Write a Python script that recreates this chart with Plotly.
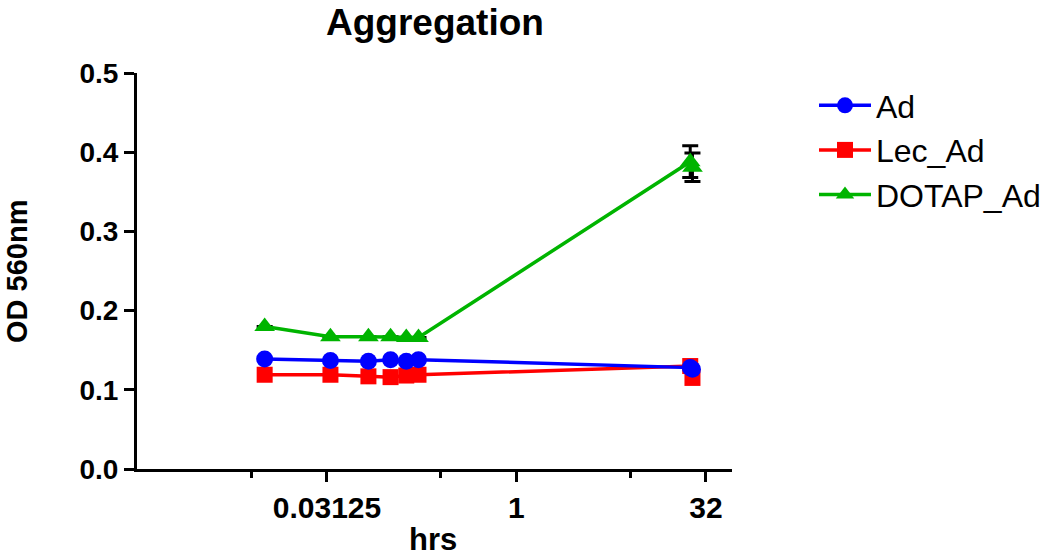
import plotly.graph_objects as go

# Data (time in hrs, OD 560nm)
time_hrs = [0.01, 0.0333, 0.0667, 0.1, 0.1333, 0.1667, 24, 25]
ad = [0.139, 0.137, 0.136, 0.138, 0.136, 0.138, 0.128, 0.126]
lec_ad = [0.119, 0.119, 0.117, 0.116, 0.118, 0.119, 0.130, 0.115]
dotap_ad = [0.180, 0.167, 0.167, 0.167, 0.166, 0.166, 0.388, 0.381]
dotap_err = [0, 0, 0, 0, 0, 0, 0.020, 0.018]

x_tickvals = [0.03125, 1, 32]
x_ticktext = ["0.03125", "1", "32"]
x_minor = [2 ** -7, 0.25, 8]
y_tickvals = [0.0, 0.1, 0.2, 0.3, 0.4, 0.5]
y_ticktext = ["0.0", "0.1", "0.2", "0.3", "0.4", "0.5"]

FONT = "Liberation Sans, Arial, sans-serif"
L, R, T, B = 137, 732, 73, 469  # plot area in page pixels
W, H = 1050, 557

fig = go.Figure()
fig.add_trace(go.Scatter(
    x=time_hrs, y=lec_ad, name="Lec_Ad", mode="lines+markers",
    line=dict(color="#FF0000", width=3.5),
    marker=dict(symbol="square", size=16, color="#FF0000"),
    legendrank=2, cliponaxis=False))
fig.add_trace(go.Scatter(
    x=time_hrs, y=ad, name="Ad", mode="lines+markers",
    line=dict(color="#0000FF", width=3.5),
    marker=dict(symbol="circle", size=17, color="#0000FF"),
    legendrank=1, cliponaxis=False))
fig.add_trace(go.Scatter(
    x=time_hrs, y=dotap_ad, name="DOTAP_Ad", mode="lines+markers",
    line=dict(color="#00B400", width=3.5),
    marker=dict(symbol="triangle-up", size=18, color="#00B400"),
    error_y=dict(type="data", array=dotap_err, visible=True,
                 color="black", thickness=3, width=8),
    legendrank=3, cliponaxis=False))

pw, ph = R - L, B - T
fig.update_layout(
    width=W, height=H,
    paper_bgcolor="white", plot_bgcolor="white",
    margin=dict(l=L, r=W - R, t=T, b=H - B, autoexpand=False),
    font=dict(family=FONT, color="black"),
    showlegend=True,
    legend=dict(x=(814 - L) / pw, y=(B - 78) / ph, xanchor="left", yanchor="top",
                font=dict(size=32, family=FONT, color="black"),
                itemwidth=52,
                bgcolor="rgba(0,0,0,0)"),
    annotations=[
        dict(text="Aggregation", xref="paper", yref="paper",
             x=0.5, y=(B - 23) / ph, xanchor="center", yanchor="middle",
             showarrow=False,
             font=dict(size=37, weight="bold", family=FONT, color="black")),
        dict(text="hrs", xref="paper", yref="paper",
             x=(433 - L) / pw, y=(B - 539) / ph, xanchor="center", yanchor="middle",
             showarrow=False,
             font=dict(size=31, weight="bold", family=FONT, color="black")),
        dict(text="OD 560nm", xref="paper", yref="paper",
             x=(17 - L) / pw, y=(B - 272) / ph, xanchor="center", yanchor="middle",
             textangle=-90, showarrow=False,
             font=dict(size=29, weight="bold", family=FONT, color="black")),
    ],
)

fig.update_xaxes(
    type="log", automargin=False,
    range=[-3.014, 1.712],
    tickvals=x_tickvals, ticktext=x_ticktext,
    ticks="outside", ticklen=10, tickwidth=3, tickcolor="black",
    minor=dict(tickvals=x_minor, ticks="outside", ticklen=6, tickwidth=3, tickcolor="black"),
    showline=True, linecolor="black", linewidth=3,
    showgrid=False, zeroline=False,
    tickfont=dict(size=30, weight="bold", family=FONT, color="black"),
)
fig.update_yaxes(
    range=[0, 0.5], automargin=False,
    tickvals=y_tickvals, ticktext=y_ticktext,
    ticks="outside", ticklen=10, tickwidth=3, tickcolor="black",
    showline=True, linecolor="black", linewidth=3,
    showgrid=False, zeroline=False,
    tickfont=dict(size=28, weight="bold", family=FONT, color="black"),
)

fig.write_html("out.html", config={"displayModeBar": False},
               post_script="document.body.style.margin='0';")
